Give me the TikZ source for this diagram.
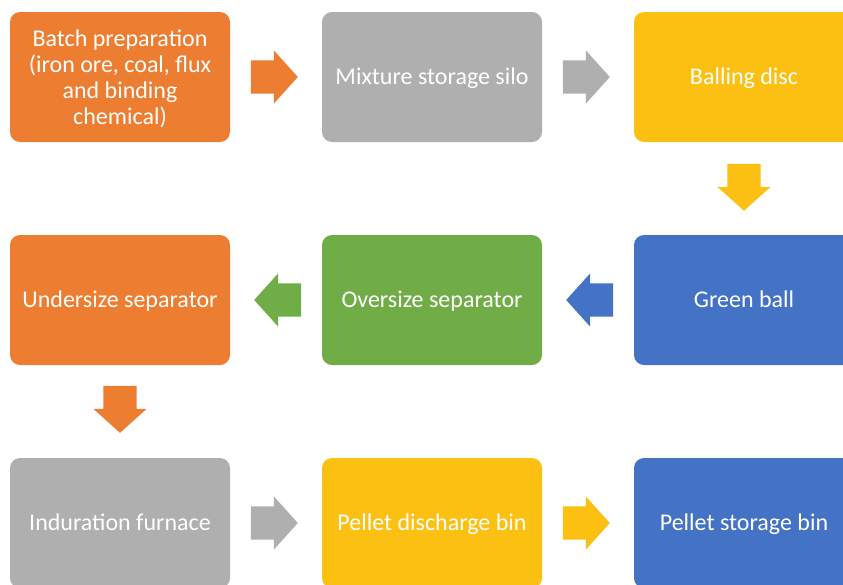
\documentclass[tikz,border=0pt]{standalone}
\usepackage{fontspec}
\setmainfont{Carlito}
\usetikzlibrary{shapes.arrows,calc}
\definecolor{cOrange}{HTML}{ED7D31}
\definecolor{cGray}{HTML}{AFAFB0}
\definecolor{cYellow}{HTML}{FBC012}
\definecolor{cBlue}{HTML}{4472C4}
\definecolor{cGreen}{HTML}{70AD47}
\newcommand{\hshaft}{\rule{0pt}{33pt}}
\newcommand{\vshaft}{\hbox to 33pt{\hfil}}
\begin{document}
\begin{tikzpicture}[x=1pt,y=-1pt,
  box/.style={rectangle,rounded corners=10pt,minimum width=220pt,minimum height=130pt,
    inner sep=0pt,text=white,align=center,font=\fontsize{24}{26}\selectfont,
    text height=20.5pt,text depth=5.4pt},
  blk/.style={single arrow,single arrow head extend=10pt,single arrow tip angle=96,
    minimum height=47pt,inner sep=0pt,outer sep=0pt,draw=none,anchor=tip}]
\useasboundingbox (0,0) rectangle (843,584);
\clip (0,0) rectangle (843,584);
% row 1
\node[box,fill=cOrange,text height=100pt] (b1) at (120,77) {Batch preparation\\(iron ore, coal, flux\\and binding\\chemical)};
\node[box,fill=cGray] (b2) at (432,77) {Mixture storage silo};
\node[box,fill=cYellow] (b3) at (744,77) {Balling disc};
% row 2
\node[box,fill=cBlue] (b4) at (744,300) {Green ball};
\node[box,fill=cGreen] (b5) at (432,300) {Oversize separator};
\node[box,fill=cOrange] (b6) at (120,300) {Undersize separator};
% row 3
\node[box,fill=cGray] (b7) at (120,523) {Induration furnace};
\node[box,fill=cYellow] (b8) at (432,523) {Pellet discharge bin};
\node[box,fill=cBlue] (b9) at (744,523) {Pellet storage bin};
% arrows
\node[blk,fill=cOrange] (a1) at ($(b2.west)+(-24,0)$) {\hshaft};
\node[blk,fill=cGray] (a2) at ($(b3.west)+(-24,0)$) {\hshaft};
\node[blk,fill=cYellow,shape border rotate=270] (a3) at ($(b4.north)+(0,-24)$) {\vshaft};
\node[blk,fill=cBlue,shape border rotate=180] (a4) at ($(b5.east)+(24,0)$) {\hshaft};
\node[blk,fill=cGreen,shape border rotate=180] (a5) at ($(b6.east)+(24,0)$) {\hshaft};
\node[blk,fill=cOrange,shape border rotate=270] (a6) at ($(b7.north)+(0,-25)$) {\vshaft};
\node[blk,fill=cGray] (a7) at ($(b8.west)+(-24,0)$) {\hshaft};
\node[blk,fill=cYellow] (a8) at ($(b9.west)+(-24,0)$) {\hshaft};
\end{tikzpicture}
\end{document}
